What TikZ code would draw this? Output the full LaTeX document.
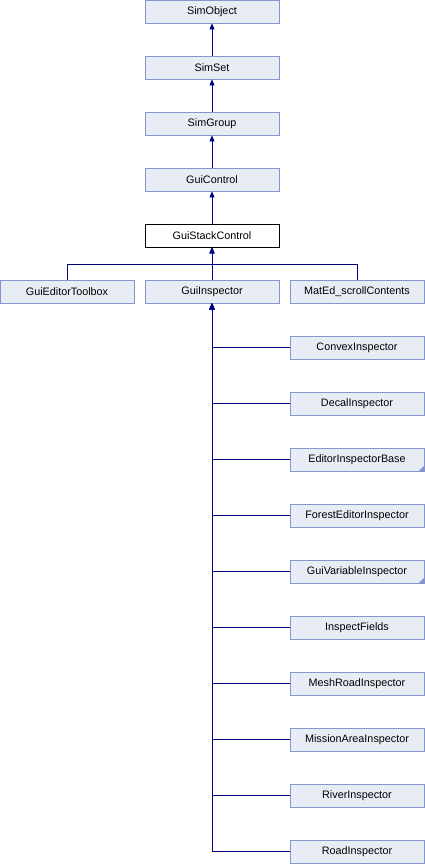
\documentclass[tikz,border=0pt]{standalone}
\usepackage{fontspec}
\setmainfont{Liberation Sans}
\usetikzlibrary{arrows.meta,calc}
\definecolor{boxfill}{HTML}{E8ECF5}
\definecolor{boxline}{HTML}{8496CC}
\definecolor{edgeblue}{HTML}{000080}
\begin{document}
\begin{tikzpicture}[x=1pt,y=-1pt]
		\tikzstyle{cls}=[rectangle,draw=boxline,fill=boxfill,line width=0.8pt,
							minimum width=134pt,minimum height=23pt,
							inner sep=0pt,font=\fontsize{10.8}{13}\selectfont]
		\tikzstyle{inh}=[draw=edgeblue,line width=0.9pt,-{Triangle[length=6pt,width=5pt]}]

		\useasboundingbox (0,0) rectangle (425,864);

		% chain
		\foreach \name/\y in {SimObject/11.5, SimSet/67.5, SimGroup/123.5, GuiControl/179.5}
			\node[cls] (\name) at (212,\y) {\name};
		\node[cls,draw=black,fill=white] (GuiStackControl) at (212,235.5) {GuiStackControl};

		% children
		\node[cls] (GuiEditorToolbox) at (67,291.5) {GuiEditorToolbox};
		\node[cls] (GuiInspector) at (212,291.5) {GuiInspector};
		\node[cls] (MatEd) at (357,291.5) {MatEd\_scrollContents};

		% inspectors
		\foreach \name/\y in {ConvexInspector/347.5, DecalInspector/403.5,
			EditorInspectorBase/459.5, ForestEditorInspector/515.5,
			GuiVariableInspector/571.5, InspectFields/627.5,
			MeshRoadInspector/683.5, MissionAreaInspector/739.5,
			RiverInspector/795.5, RoadInspector/851.5}
			\node[cls] (\name) at (357,\y) {\name};

		% folded corners
		\foreach \name in {EditorInspectorBase, GuiVariableInspector}
			\fill[boxline] (\name.south east) -- ++(-6,0) -- ++(6,-6) -- cycle;

		% edges
		\draw[inh] (SimSet) -- (SimObject);
		\draw[inh] (SimGroup) -- (SimSet);
		\draw[inh] (GuiControl) -- (SimGroup);
		\draw[inh] (GuiStackControl) -- (GuiControl);

		\coordinate (bus) at (212,264);
		\draw[inh] (GuiEditorToolbox.north) |- (bus) -- (GuiStackControl.south);
		\draw[inh] (MatEd.north) |- (bus) -- (GuiStackControl.south);
		\draw[inh] (GuiInspector) -- (GuiStackControl);

		\foreach \name in {ConvexInspector, DecalInspector, EditorInspectorBase,
			ForestEditorInspector, GuiVariableInspector, InspectFields,
			MeshRoadInspector, MissionAreaInspector, RiverInspector, RoadInspector}
			\draw[inh] (\name.west) -| (GuiInspector.south);
\end{tikzpicture}
\end{document}
